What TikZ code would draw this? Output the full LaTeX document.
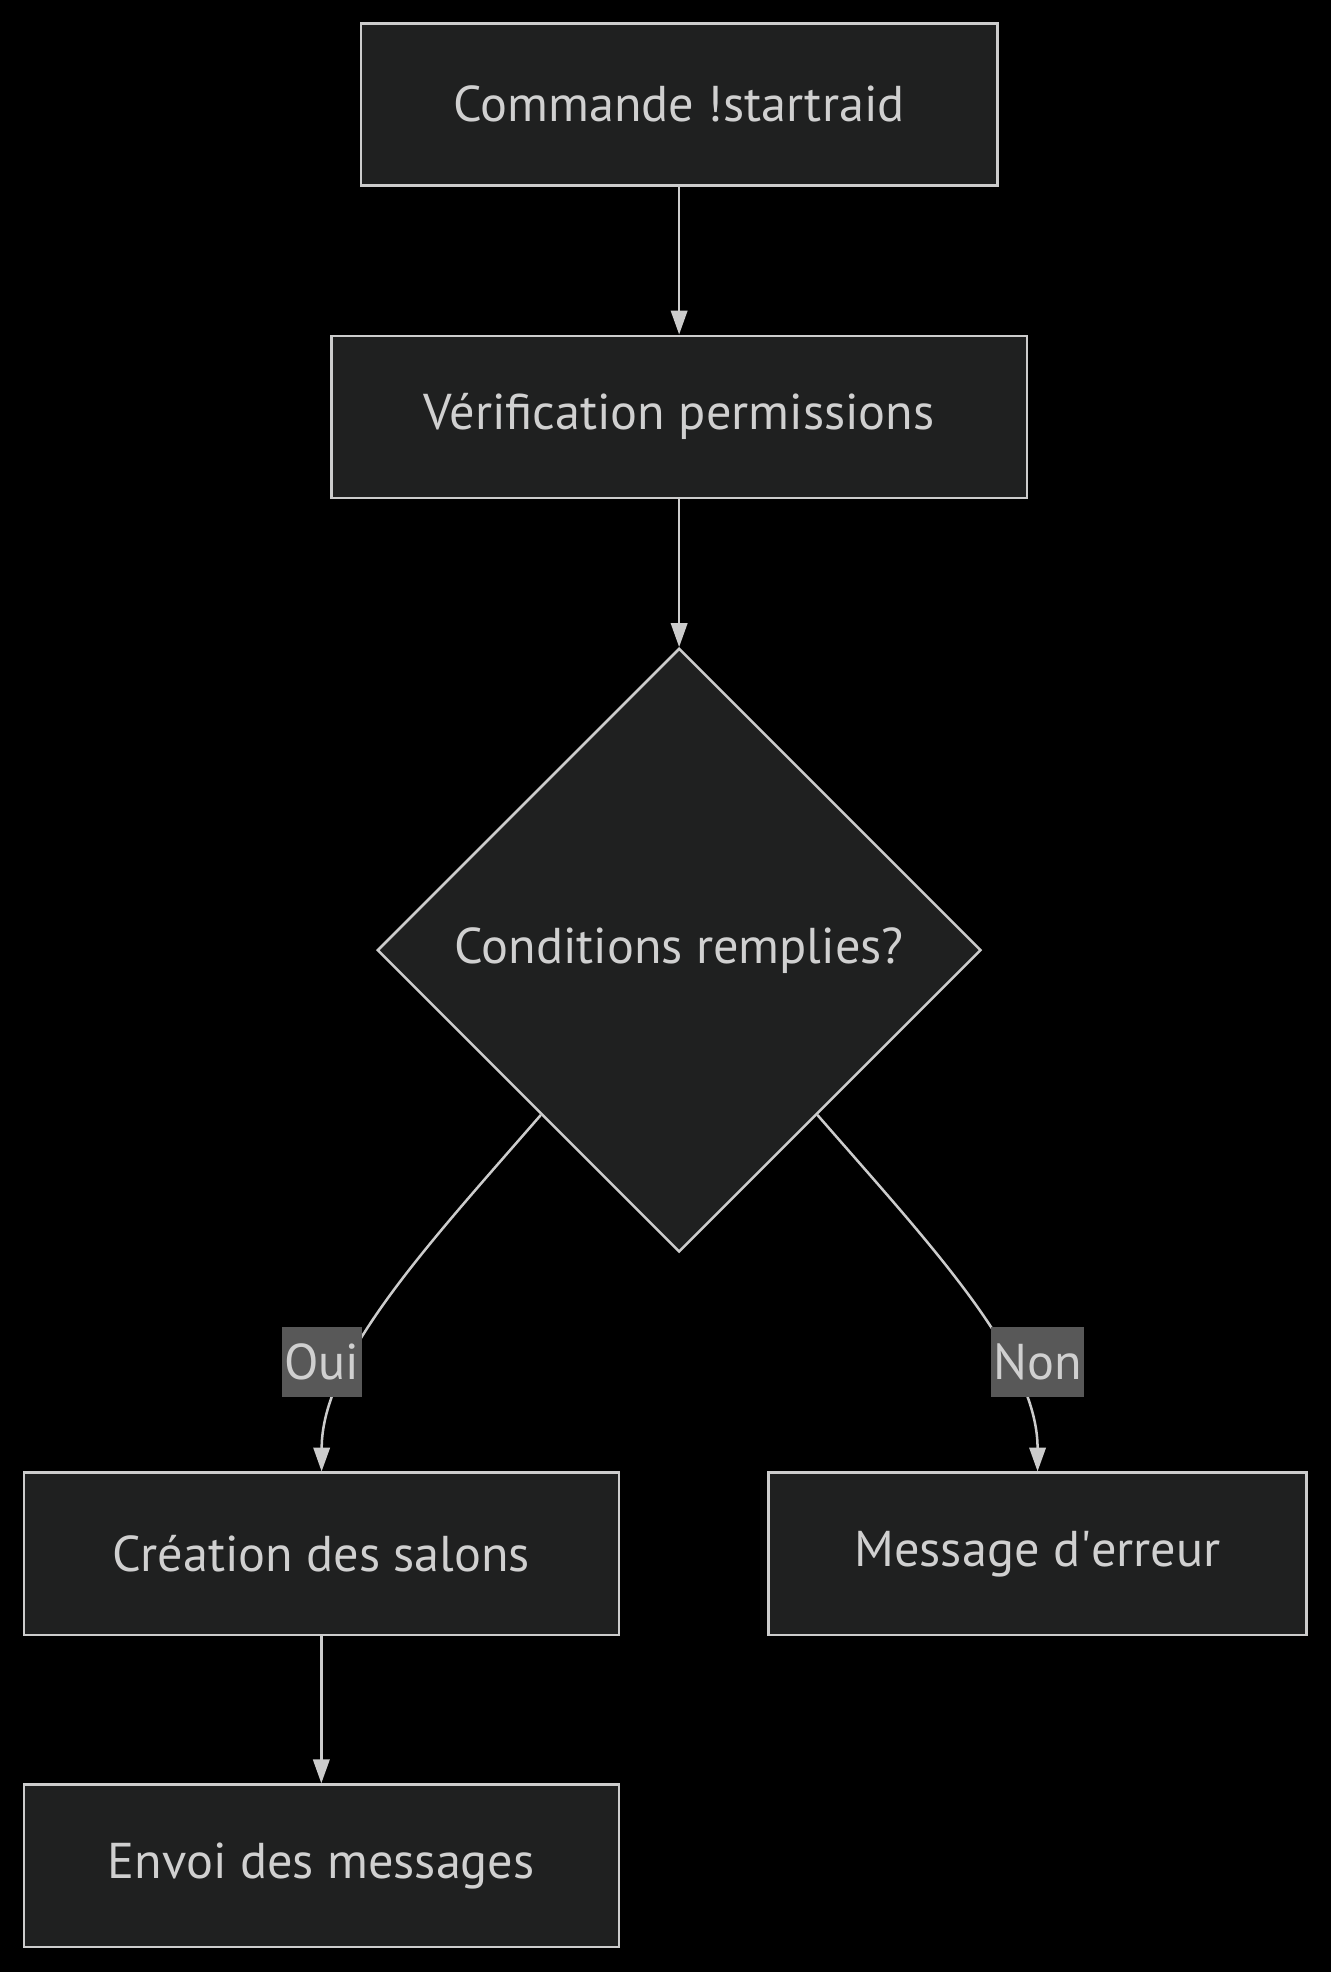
\documentclass[tikz,border=0pt]{standalone}
\usepackage{fontspec}
\setmainfont{PT Sans}
\usetikzlibrary{arrows.meta,shapes.geometric}
\definecolor{boxfill}{HTML}{1F2020}
\definecolor{boxline}{HTML}{CCCCCC}
\definecolor{txt}{HTML}{D0D0D0}
\definecolor{lblfill}{HTML}{585858}

\begin{document}
\begin{tikzpicture}[x=0.5pt,y=-0.5pt,->,>={Triangle[length=9.5pt,width=6.5pt]},line width=1pt,draw=boxline,
  every node/.style={font=\fontsize{20}{22}\selectfont,text=txt},
  etape/.style={draw=boxline,fill=boxfill,rectangle,inner sep=0pt,minimum height=64.5pt},
  choix/.style={draw=boxline,fill=boxfill,diamond,aspect=1,inner sep=0pt,minimum width=240pt,minimum height=240pt},
  reponse/.style={fill=lblfill,inner sep=1pt,minimum height=28pt}]
  \fill[black] (0,0) rectangle (1058,1568);
  \useasboundingbox (0,0) rectangle (1058,1568);
  \node[etape,minimum width=253pt] (cmd) at (540,83) {Commande !startraid};
  \node[etape,minimum width=276.5pt] (verif) at (540,331.5) {Vérification permissions};
  \node[choix] (cond) at (540,755.5) {Conditions remplies?};
  \node[etape,minimum width=236.5pt] (salons) at (255.5,1235.5) {Création des salons};
  \node[etape,minimum width=214pt] (erreur) at (825,1235.5) {Message d\textquotesingle erreur};
  \node[etape,minimum width=236.5pt] (envoi) at (255.5,1483.5) {Envoi des messages};
  \draw (cmd) -- (verif);
  \draw (verif) -- (cond);
  \draw (cond.-130) .. controls (340,990) and (256,1080) .. (salons);
  \draw (cond.-50) .. controls (740,990) and (825,1080) .. (erreur);
  \draw (salons) -- (envoi);
  \node[reponse] (oui) at (256,1083) {Oui};
  \node[reponse] (non) at (825,1083) {Non};
\end{tikzpicture}
\end{document}
